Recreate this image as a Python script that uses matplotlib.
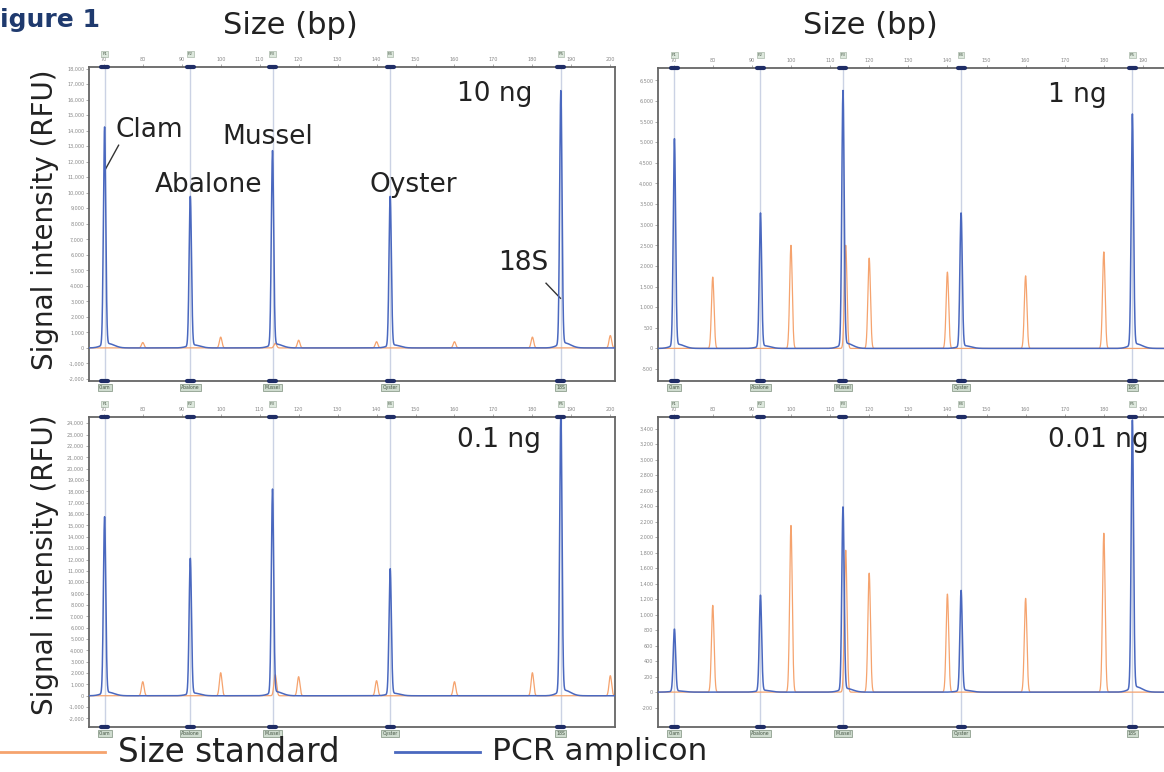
import numpy as np
import matplotlib
matplotlib.use("Agg")
import matplotlib.pyplot as plt

# bins (bp) of the amplicons and their names
bin_bp = [70.2, 92.2, 113.3, 143.5, 187.3]
bin_names = ["Clam", "Abalone", "Mussel", "Oyster", "18S"]
bin_tags = ["F1", "F2", "F3", "F4", "F5"]

# size standard fragments (bp)
standard_bp = [80, 100, 114, 120, 140, 160, 180, 200]

# peak heights (RFU) for each panel
amplicon_10ng = [14000, 9600, 12500, 9600, 16300]
amplicon_1ng = [5000, 3230, 6150, 3230, 5590]
amplicon_01ng = [15500, 11900, 17900, 11000, 24400]
amplicon_001ng = [800, 1230, 2350, 1290, 3450]

standard_10ng = [350, 700, 300, 500, 400, 400, 700, 800]
standard_1ng = [1730, 2500, 2500, 2190, 1850, 1760, 2340, 2300]
standard_01ng = [1240, 2030, 1860, 1680, 1330, 1240, 2030, 1770]
standard_001ng = [1120, 2150, 1830, 1535, 1265, 1210, 2050, 2000]

panel_amounts = ["10 ng", "1 ng", "0.1 ng", "0.01 ng"]
x_ticks = list(range(70, 201, 10))

blue = "#4a68bf"
orange = "#f5a36e"

x = np.linspace(66, 202, 6801)


def trace(pos, heights, width, tail=0.0):
    y = np.zeros_like(x)
    for p, h in zip(pos, heights):
        y += h * np.exp(-0.5 * ((x - p) / width) ** 2)
        if tail:
            y += tail * h * np.exp(-0.5 * ((x - p - 0.9) / 1.6) ** 2)
    return y


fig = plt.figure(figsize=(11.64, 7.72), dpi=100)
W, H = 1164.0, 772.0


def box(l, t, r, b):
    return [l / W, 1 - b / H, (r - l) / W, (b - t) / H]


panels = [
    (box(89, 67, 615, 381), (66.2, 201.2), (-2130, 18100), np.arange(-2000, 18001, 1000),
     amplicon_10ng, standard_10ng),
    (box(658, 68, 1175, 381), (66.0, 198.2), (-790, 6800), np.arange(-500, 6501, 500),
     amplicon_1ng, standard_1ng),
    (box(89, 417, 615, 727), (66.2, 201.2), (-2750, 24550), np.arange(-2000, 24001, 1000),
     amplicon_01ng, standard_01ng),
    (box(658, 417, 1175, 727), (66.0, 198.2), (-450, 3550), np.arange(-200, 3401, 200),
     amplicon_001ng, standard_001ng),
]

axes = []
for i, (pos, xl, yl, yt, amp, std) in enumerate(panels):
    ax = fig.add_axes(pos)
    axes.append(ax)
    # bin lines
    for b in bin_bp:
        ax.axvline(b, color="#cbd2e4", lw=1.0, zorder=1)
    ax.plot(x, trace(standard_bp, std, 0.33), color=orange, lw=0.9, zorder=2)
    ax.plot(x, trace(bin_bp, amp, 0.30, tail=0.02), color=blue, lw=1.1, zorder=3)
    ax.set_xlim(*xl)
    ax.set_ylim(*yl)
    ax.set_yticks(yt)
    ax.set_yticklabels(["{:,}".format(v) for v in yt])
    ax.xaxis.tick_top()
    ax.set_xticks([t for t in x_ticks if xl[0] < t < xl[1] + 0.5])
    ax.tick_params(axis="both", labelsize=3.5, colors="#888888", length=2, width=0.5, pad=1.5)
    for s in ax.spines.values():
        s.set_color("#666666")
        s.set_linewidth(1.3)
    # bin markers at top and bottom edge, tags above, names below
    tr = ax.get_xaxis_transform()
    for b, name, tag in zip(bin_bp, bin_names, bin_tags):
        ax.plot([b - 0.9, b + 0.9], [1, 1], transform=tr, color="#1f2d66", lw=3,
                solid_capstyle="round", clip_on=False, zorder=5)
        ax.plot([b - 0.9, b + 0.9], [0, 0], transform=tr, color="#1f2d66", lw=3,
                solid_capstyle="round", clip_on=False, zorder=5)
        ax.text(b, 1.035, tag, transform=tr, ha="center", va="bottom", fontsize=3,
                color="#445544", bbox=dict(boxstyle="square,pad=0.2", fc="#dde8dd", ec="#99aa99", lw=0.4))
        ax.text(b, -0.012, name, transform=tr, ha="center", va="top", fontsize=3.3,
                color="#445544", bbox=dict(boxstyle="square,pad=0.25", fc="#cfdccf", ec="#7d8f7d", lw=0.5))
    ax.text(0.70 if i % 2 == 0 else 0.755, 0.915 if i < 2 else 0.925, panel_amounts[i],
            transform=ax.transAxes, fontsize=19, color="#222222", va="center")

# species labels on the 10 ng panel
ax = axes[0]
ax.text(73.0, 14040, "Clam", fontsize=19, va="center", color="#222222")
ax.plot([73.8, 70.3], [13060, 11460], color="#333333", lw=1.0)
ax.text(83.2, 10490, "Abalone", fontsize=19, va="center", color="#222222")
ax.text(100.4, 13590, "Mussel", fontsize=19, va="center", color="#222222")
ax.text(138.3, 10490, "Oyster", fontsize=19, va="center", color="#222222")
ax.text(171.2, 5460, "18S", fontsize=19, va="center", color="#222222")
ax.plot([183.5, 187.2], [4170, 3200], color="#333333", lw=1.0)

# figure texts
fig.text(290 / W, 1 - 25 / H, "Size (bp)", fontsize=22, ha="center", va="center", color="#222222")
fig.text(870 / W, 1 - 25 / H, "Size (bp)", fontsize=22, ha="center", va="center", color="#222222")
fig.text(45 / W, 1 - 220 / H, "Signal intensity (RFU)", fontsize=20, rotation=90,
         ha="center", va="center", color="#222222")
fig.text(45 / W, 1 - 565 / H, "Signal intensity (RFU)", fontsize=20, rotation=90,
         ha="center", va="center", color="#222222")
# the figure caption is cut at the left edge, as in the original
fig.text(-17 / W, 1 - 20 / H, "Figure 1", fontsize=18, fontweight="bold", color="#1f3a6e",
         ha="left", va="center")

# legend drawn by hand at the bottom
fig.add_artist(plt.Line2D([0 / W, 105 / W], [1 - 752 / H] * 2, color=orange, lw=2))
fig.text(118 / W, 1 - 752 / H, "Size standard", fontsize=23.5, va="center", color="#222222")
fig.add_artist(plt.Line2D([395 / W, 480 / W], [1 - 752 / H] * 2, color=blue, lw=2))
fig.text(492 / W, 1 - 752 / H, "PCR amplicon", fontsize=22.5, va="center", color="#222222")

fig.savefig("out.png", dpi=100)
